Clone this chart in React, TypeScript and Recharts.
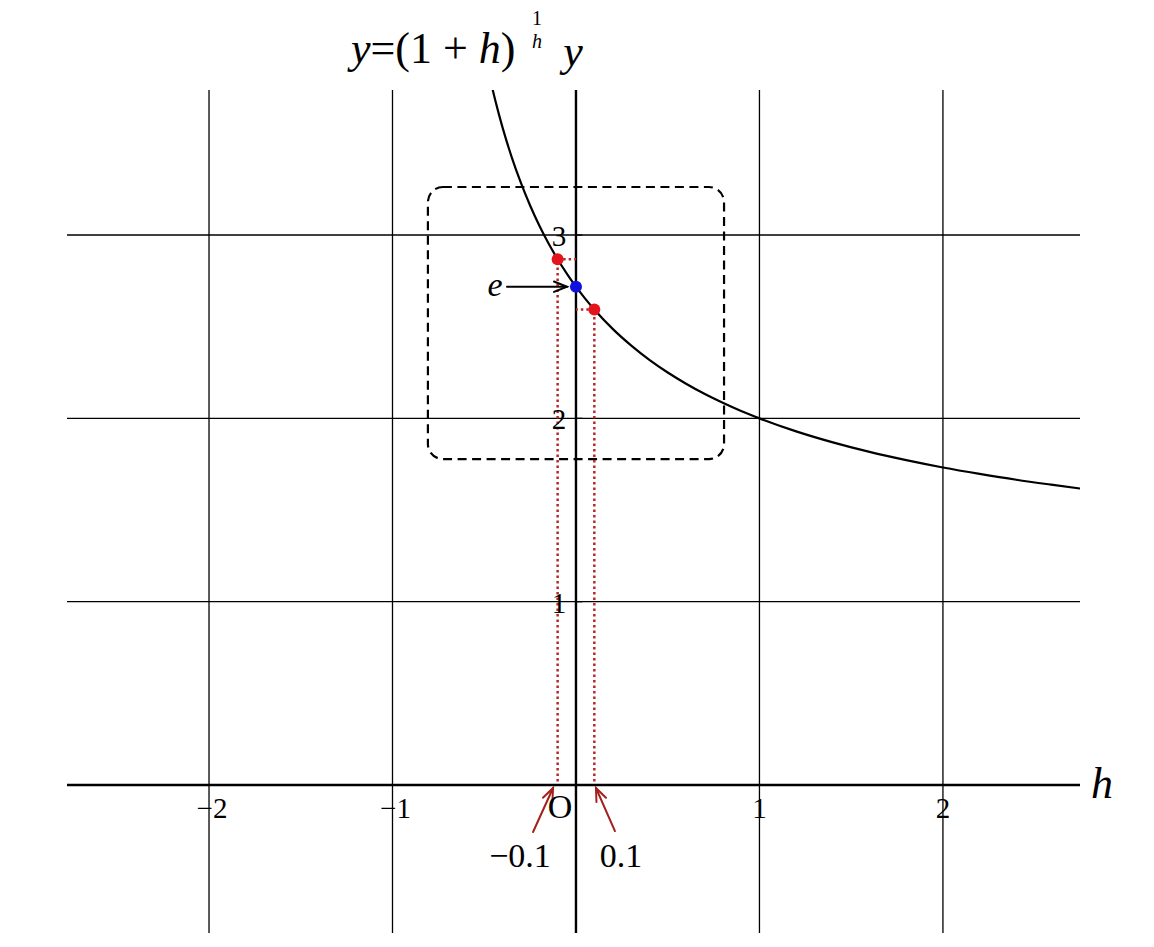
import React from 'react';
import {
  ComposedChart,
  Line,
  XAxis,
  YAxis,
  ReferenceLine,
  ReferenceDot,
  ReferenceArea,
} from 'recharts';

// y = (1 + h)^(1/h)
const curveH = [-0.46, -0.44, -0.42, -0.4, -0.35, -0.3, -0.25, -0.2, -0.15, -0.1, -0.05, 0, 0.05, 0.1, 0.2, 0.3, 0.4, 0.5, 0.6, 0.7, 0.8, 0.9, 1.0, 1.2, 1.4, 1.6, 1.8, 2.0, 2.2, 2.4, 2.6, 2.75];
const curveY = [3.817, 3.735, 3.658, 3.586, 3.424, 3.284, 3.161, 3.052, 2.955, 2.868, 2.79, 2.718, 2.653, 2.594, 2.488, 2.398, 2.319, 2.25, 2.189, 2.134, 2.085, 2.04, 2.0, 1.929, 1.869, 1.817, 1.772, 1.732, 1.697, 1.665, 1.637, 1.617];

const xTicks = [-2, -1, 1, 2];
const xTickLabels = ['\u22122', '\u22121', '1', '2'];
const yTicks = [1, 2, 3];
const yTickLabels = ['1', '2', '3'];

const xDomain = [-2.774, 2.747];
const yDomain = [-0.807, 3.791];

const sampleH = [-0.1, 0.1];
const sampleY = [2.868, 2.594];
const sampleLabels = ['\u22120.1', '0.1'];
const eValue = 2.718;

const boxH = [-0.807, 0.807];
const boxY = [1.778, 3.262];

// arrows: tail -> tip
const eArrowTail = { x: -0.376, y: 2.718 };
const eArrowTip = { x: -0.049, y: 2.718 };
const redArrowTails = [{ x: -0.234, y: -0.256 }, { x: 0.2125, y: -0.251 }];
const redArrowTips = [{ x: -0.125, y: -0.016 }, { x: 0.109, y: -0.016 }];

const data = curveH.map((h, i) => ({ h, y: curveY[i] }));

const SERIF = '"Liberation Serif", "DejaVu Serif", serif';
const DOT_RED = '#e3141b';
const LINE_RED = '#b52a26';
const ARROW_RED = '#a3201c';

const textAt = (
  content: React.ReactNode,
  dx: number,
  dy: number,
  style: React.SVGProps<SVGTextElement> = {}
) => (p: any) => (
  <text
    x={p.cx + dx}
    y={p.cy + dy}
    textAnchor="middle"
    fontFamily={SERIF}
    fontSize={28}
    fill="#000"
    {...style}
  >
    {content}
  </text>
);

const arrowShape = (color: string) => (p: any) => {
  const { x1, y1, x2, y2 } = p;
  const ang = Math.atan2(y2 - y1, x2 - x1);
  const len = 14;
  const spread = 0.38;
  const ax = x2 - len * Math.cos(ang - spread);
  const ay = y2 - len * Math.sin(ang - spread);
  const bx = x2 - len * Math.cos(ang + spread);
  const by = y2 - len * Math.sin(ang + spread);
  return (
    <g stroke={color} strokeWidth={2} fill="none" strokeLinecap="round">
      <line x1={x1} y1={y1} x2={x2} y2={y2} />
      <polyline points={`${ax},${ay} ${x2},${y2} ${bx},${by}`} />
    </g>
  );
};

export default function App() {
  return (
    <div style={{ position: 'absolute', left: 0, top: 0, background: '#fff' }}>
      <ComposedChart
        width={1154}
        height={947}
        data={data}
        margin={{ top: 90, right: 74, bottom: 14, left: 67 }}
      >
        <XAxis type="number" dataKey="h" domain={xDomain} allowDataOverflow hide />
        <YAxis type="number" domain={yDomain} allowDataOverflow hide />

        {xTicks.map((v) => (
          <ReferenceLine key={`gx${v}`} x={v} stroke="#000" strokeWidth={1.3} />
        ))}
        {yTicks.map((v) => (
          <ReferenceLine key={`gy${v}`} y={v} stroke="#000" strokeWidth={1.3} />
        ))}
        <ReferenceLine x={0} stroke="#000" strokeWidth={2.4} />
        <ReferenceLine y={0} stroke="#000" strokeWidth={2.4} />
        {yTicks.map((v) => (
          <ReferenceLine
            key={`ty${v}`}
            segment={[{ x: 0, y: v }, { x: 0.035, y: v }]}
            stroke="#000"
            strokeWidth={1.3}
          />
        ))}

        <ReferenceArea
          x1={boxH[0]}
          x2={boxH[1]}
          y1={boxY[0]}
          y2={boxY[1]}
          shape={(p: any) => (
            <rect
              x={p.x}
              y={p.y}
              width={p.width}
              height={p.height}
              rx={15}
              ry={15}
              fill="none"
              stroke="#000"
              strokeWidth={2.2}
              strokeDasharray="9 5.5"
            />
          )}
        />

        <Line
          type="monotone"
          dataKey="y"
          stroke="#000"
          strokeWidth={2.2}
          dot={false}
          activeDot={false}
          isAnimationActive={false}
        />

        {sampleH.map((h, i) => (
          <ReferenceLine
            key={`dv${i}`}
            segment={[{ x: h, y: 0.02 }, { x: h, y: sampleY[i] }]}
            stroke={LINE_RED}
            strokeWidth={2.5}
            strokeDasharray="2.5 3"
          />
        ))}
        {sampleH.map((h, i) => (
          <ReferenceLine
            key={`dh${i}`}
            segment={[{ x: h, y: sampleY[i] }, { x: 0, y: sampleY[i] }]}
            stroke={LINE_RED}
            strokeWidth={2.5}
            strokeDasharray="2.5 3"
          />
        ))}

        {sampleH.map((h, i) => (
          <ReferenceDot key={`sd${i}`} x={h} y={sampleY[i]} r={6} fill={DOT_RED} stroke="none" />
        ))}
        <ReferenceDot x={0} y={eValue} r={6} fill="#1010e0" stroke="none" />

        <ReferenceLine segment={[eArrowTail, eArrowTip]} shape={arrowShape('#000')} />
        {redArrowTails.map((t, i) => (
          <ReferenceLine key={`ra${i}`} segment={[t, redArrowTips[i]]} shape={arrowShape(ARROW_RED)} />
        ))}

        {xTicks.map((v, i) => (
          <ReferenceDot
            key={`lx${v}`}
            x={v}
            y={0}
            r={0}
            shape={textAt(xTickLabels[i], v < 0 ? 3 : 0, 33, { fontSize: 29 })}
          />
        ))}
        {yTicks.map((v, i) => (
          <ReferenceDot
            key={`ly${v}`}
            x={0}
            y={v}
            r={0}
            shape={textAt(yTickLabels[i], -17, 11, { fontSize: 29 })}
          />
        ))}
        <ReferenceDot x={0} y={0} r={0} shape={textAt('O', -16, 33, { fontSize: 34 })} />
        {sampleH.map((h, i) => (
          <ReferenceDot
            key={`sl${i}`}
            x={0}
            y={0}
            r={0}
            shape={textAt(sampleLabels[i], i === 0 ? -56 : 45, 82, { fontSize: 34 })}
          />
        ))}
        <ReferenceDot
          x={eArrowTail.x}
          y={eArrowTail.y}
          r={0}
          shape={textAt('e', -12, 9, { fontSize: 34, fontStyle: 'italic' })}
        />
        <ReferenceDot
          x={xDomain[1]}
          y={0}
          r={0}
          shape={textAt('h', 22, 13, { fontSize: 44, fontStyle: 'italic' })}
        />
        <ReferenceDot
          x={0}
          y={yDomain[1]}
          r={0}
          shape={textAt('y', -3, -24, { fontSize: 44, fontStyle: 'italic' })}
        />
        <ReferenceDot
          x={0}
          y={yDomain[1]}
          r={0}
          shape={(p: any) => (
            <g fontFamily={SERIF} fill="#000">
              <text x={p.cx - 225} y={p.cy - 27} fontSize={44}>
                <tspan fontStyle="italic">y</tspan>=(1 + <tspan fontStyle="italic">h</tspan>)
              </text>
              <text x={p.cx - 39} y={p.cy - 65} fontSize={20} textAnchor="middle">1</text>
              <text x={p.cx - 39} y={p.cy - 42} fontSize={20} textAnchor="middle" fontStyle="italic">h</text>
            </g>
          )}
        />
      </ComposedChart>
    </div>
  );
}
